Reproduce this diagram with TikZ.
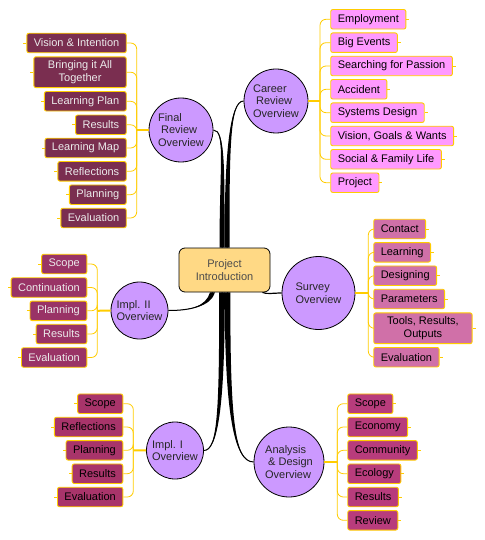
\documentclass[tikz,border=0pt]{standalone}
\usepackage{fontspec}
\setmainfont{Liberation Sans}
\usetikzlibrary{calc}

\definecolor{gold}{HTML}{FFCC00}
\definecolor{hubfill}{HTML}{CC99FF}
\definecolor{corefill}{HTML}{FFD985}
\definecolor{careerfill}{HTML}{FF99FF}
\definecolor{surveyfill}{HTML}{D070A8}
\definecolor{analysisfill}{HTML}{B83C7C}
\definecolor{implfill}{HTML}{A8346A}
\definecolor{impliifill}{HTML}{993366}
\definecolor{finalfill}{HTML}{7A2E50}

% tapered black branch: start, ctrl1, ctrl2, end, half width at start
\newcommand{\branch}[5]{%
  \fill ($(#1)-(#5)$) .. controls +(#2) and +(#3) .. (#4)
    .. controls +(#3) and +(#2) .. ($(#1)+(#5)$) -- cycle;
  \draw[line width=1pt] (#1) .. controls +(#2) and +(#3) .. (#4);}

\begin{document}
\begin{tikzpicture}[x=1pt,y=-1pt,
  font=\fontsize{11}{12.5}\selectfont,
  hub/.style={circle,draw=black,line width=0.8pt,fill=hubfill,minimum size=#1,
    inner sep=0pt,align=left,text=black!85},
  core/.style={rectangle,rounded corners=6pt,draw=black,line width=0.8pt,fill=corefill,
    minimum width=91pt,minimum height=44pt,align=center,text=black!70},
  leaf/.style={rectangle,rounded corners=2pt,draw=gold,line width=0.9pt,
    minimum height=19.5pt,inner xsep=7pt,inner ysep=4pt,align=center},
  cleaf/.style={leaf,fill=careerfill,text=black,anchor=west},
  sleaf/.style={leaf,fill=surveyfill,text=black,anchor=west},
  aleaf/.style={leaf,fill=analysisfill,text=black,anchor=west},
  ileaf/.style={leaf,fill=implfill,text=black,anchor=east},
  iileaf/.style={leaf,fill=impliifill,text=white!92!black,anchor=east},
  fleaf/.style={leaf,fill=finalfill,text=white!92!black,anchor=east},
  link/.style={gold,line width=0.8pt,rounded corners=6pt},
  stem/.style={gold,line width=2pt},
  stub/.style={gold,line width=0.8pt}]
\useasboundingbox (0,0) rectangle (484,540);

% centre and overviews
\node[core] (intro) at (224.5,270) {Project\\Introduction};
\node[hub=64pt] (career) at (276,101) {Career\\\hspace*{3pt}Review\\Overview};
\node[hub=64pt] (final) at (181,130) {Final\\\hspace*{3pt}Review\\Overview};
\node[hub=73pt] (survey) at (318.5,293) {Survey\\Overview};
\node[hub=57pt] (impltwo) at (139.5,310.5) {Impl. II\\Overview};
\node[hub=57pt] (implone) at (175,450.5) {Impl. I\\Overview};
\node[hub=70pt] (analysis) at (289,462) {Analysis\\\hspace*{3pt}\& Design\\Overview};

% branches
\coordinate (bc) at ($(intro.north)+(2.5,0)$);
\coordinate (bf) at ($(intro.north)+(-2.5,0)$);
\coordinate (bii) at ($(intro.south)+(-12,0)$);
\coordinate (bi) at ($(intro.south)+(-2.5,0)$);
\coordinate (ba) at ($(intro.south)+(3,0)$);
\coordinate (bs) at ($(intro.south east)+(-8,0)$);
\branch{bc}{0,-95}{-14,0}{career.west}{2.5,0}
\branch{bf}{0,-80}{12,0}{final.east}{2.5,0}
\branch{bii}{-4,14}{22,0}{impltwo.east}{2.5,0}
\branch{bi}{0,115}{14,0}{implone.east}{2.8,0}
\branch{ba}{0,120}{-20,0}{analysis.west}{2.8,0}
\draw[line width=1.2pt] (bs) .. controls +(4,2) and +(-8,0) .. (survey.west);

% career
\node[cleaf] (c1) at (330.3,19.3) {Employment};
\node[cleaf] (c2) at (330.3,42.7) {Big Events};
\node[cleaf] (c3) at (330.3,66) {Searching for Passion};
\node[cleaf] (c4) at (330.3,89.3) {Accident};
\node[cleaf] (c5) at (330.3,112.7) {Systems Design};
\node[cleaf] (c6) at (330.3,136) {Vision, Goals \& Wants};
\node[cleaf] (c7) at (330.3,159.3) {Social \& Family Life};
\node[cleaf] (c8) at (330.3,182.7) {Project};
\coordinate (cj) at (320,101);
\draw[stem] (career.east) -- (cj);
\foreach \k in {1,...,8} {
  \draw[link] (cj) |- (c\k.west);
  \draw[stub] (c\k.east) -- ++(3,0);
}

% final
\node[fleaf] (f1) at (126.7,43) {Vision \& Intention};
\node[fleaf,minimum width=92.4pt] (f2) at (126.7,72.2) {Bringing it All\\Together};
\node[fleaf] (f3) at (126.7,101.3) {Learning Plan};
\node[fleaf] (f4) at (126.7,124.8) {Results};
\node[fleaf] (f5) at (126.7,148) {Learning Map};
\node[fleaf] (f6) at (126.7,171.3) {Reflections};
\node[fleaf] (f7) at (126.7,194.7) {Planning};
\node[fleaf] (f8) at (126.7,218) {Evaluation};
\coordinate (fj) at (136.7,130);
\draw[stem] (final.west) -- (fj);
\foreach \k in {1,...,8} {
  \draw[link] (fj) |- (f\k.east);
  \draw[stub] (f\k.west) -- ++(-3,0);
}

% survey
\node[sleaf] (s1) at (373.3,229) {Contact};
\node[sleaf] (s2) at (373.3,252.3) {Learning};
\node[sleaf] (s3) at (373.3,275.7) {Designing};
\node[sleaf] (s4) at (373.3,299) {Parameters};
\node[sleaf,minimum width=98.4pt] (s5) at (373.3,328.3) {Tools, Results,\\Outputs};
\node[sleaf] (s6) at (373.3,357.2) {Evaluation};
\coordinate (sj) at (368.3,293);
\draw[stem] (survey.east) -- (sj);
\foreach \k in {1,...,6} {
  \draw[link] (sj) |- (s\k.west);
  \draw[stub] (s\k.east) -- ++(3,0);
}

% impl. II
\node[iileaf] (ii1) at (87.3,264) {Scope};
\node[iileaf] (ii2) at (87.3,287.5) {Continuation};
\node[iileaf] (ii3) at (87.3,310.8) {Planning};
\node[iileaf] (ii4) at (87.3,334) {Results};
\node[iileaf] (ii5) at (87.3,357.5) {Evaluation};
\coordinate (iij) at (97.3,310.8);
\draw[stem] (impltwo.west) -- (iij);
\foreach \k in {1,...,5} {
  \draw[link] (iij) |- (ii\k.east);
  \draw[stub] (ii\k.west) -- ++(-3,0);
}

% impl. I
\node[ileaf] (i1) at (123.3,403.7) {Scope};
\node[ileaf] (i2) at (123.3,427) {Reflections};
\node[ileaf] (i3) at (123.3,450.3) {Planning};
\node[ileaf] (i4) at (123.3,473.7) {Results};
\node[ileaf] (i5) at (123.3,497) {Evaluation};
\coordinate (ij) at (133.3,450.3);
\draw[stem] (implone.west) -- (ij);
\foreach \k in {1,...,5} {
  \draw[link] (ij) |- (i\k.east);
  \draw[stub] (i\k.west) -- ++(-3,0);
}

% analysis & design
\node[aleaf] (a1) at (347.3,403.7) {Scope};
\node[aleaf] (a2) at (347.3,427) {Economy};
\node[aleaf] (a3) at (347.3,450.3) {Community};
\node[aleaf] (a4) at (347.3,473.7) {Ecology};
\node[aleaf] (a5) at (347.3,497) {Results};
\node[aleaf] (a6) at (347.3,520.3) {Review};
\coordinate (aj) at (337.3,462);
\draw[stem] (analysis.east) -- (aj);
\foreach \k in {1,...,6} {
  \draw[link] (aj) |- (a\k.west);
  \draw[stub] (a\k.east) -- ++(3,0);
}
\end{tikzpicture}
\end{document}
